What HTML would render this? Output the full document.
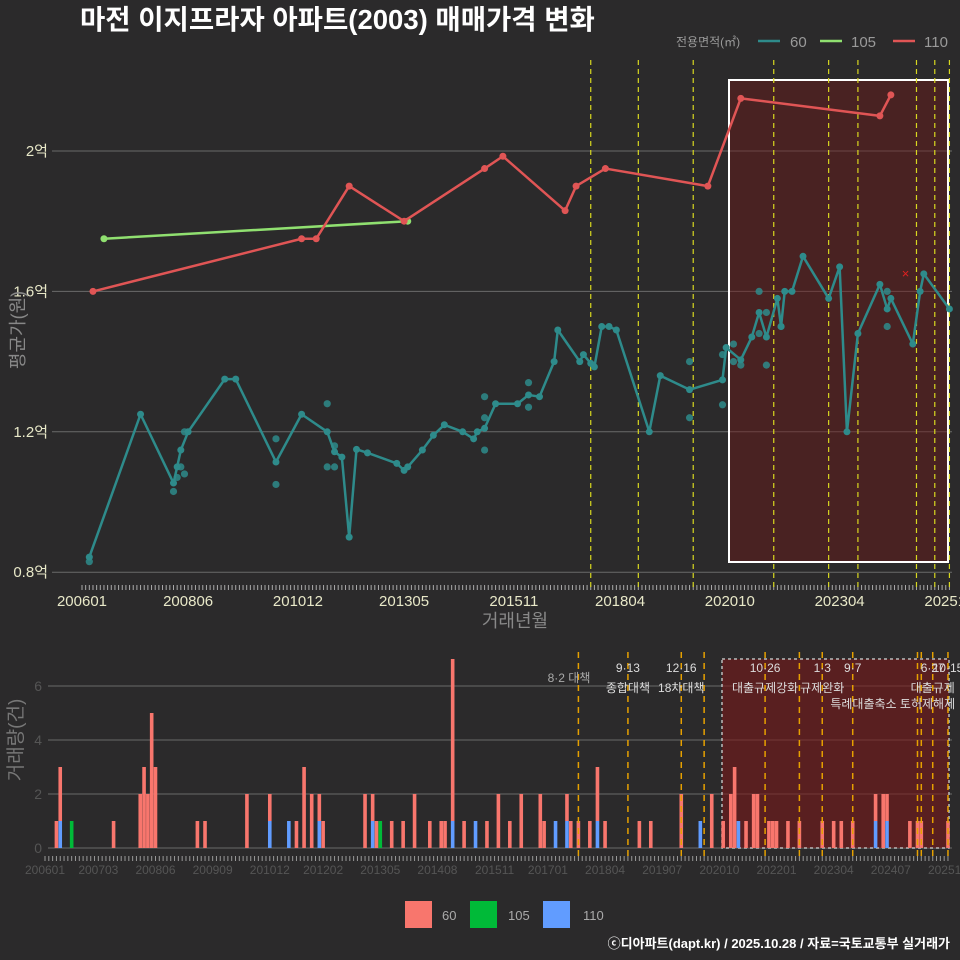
<!DOCTYPE html>
<html><head><meta charset="utf-8"><style>
html,body{margin:0;padding:0;background:#2b2a2b;}
svg{display:block;font-family:"Liberation Sans","Noto Sans CJK KR",sans-serif;}
</style></head><body>
<svg id="c" width="960" height="960" viewBox="0 0 960 960" xmlns="http://www.w3.org/2000/svg">
<rect width="960" height="960" fill="#2b2a2b"/>
<text x="80" y="29" fill="#ffffff" font-size="27.5" font-weight="bold">마전 이지프라자 아파트(2003) 매매가격 변화</text>
<g>
<text x="676" y="46" fill="#9a9a9a" font-size="12">전용면적(㎡)</text>
<line x1="758" y1="41" x2="780" y2="41" stroke="#2e8b8b" stroke-width="2.5"/>
<text x="790" y="47" fill="#9a9a9a" font-size="15">60</text>
<line x1="820" y1="41" x2="842" y2="41" stroke="#90e070" stroke-width="2.5"/>
<text x="851" y="47" fill="#9a9a9a" font-size="15">105</text>
<line x1="893" y1="41" x2="915" y2="41" stroke="#e05555" stroke-width="2.5"/>
<text x="924" y="47" fill="#9a9a9a" font-size="15">110</text>
</g>
<g id="topG"></g>
<g id="botG"></g>
<text transform="translate(24,330) rotate(-90)" text-anchor="middle" fill="#888" font-size="18">평균가(원)</text>
<text x="515" y="627" text-anchor="middle" fill="#888" font-size="18">거래년월</text>
<text transform="translate(22,740) rotate(-90)" text-anchor="middle" fill="#777" font-size="19">거래량(건)</text>
<g>
<rect x="405" y="901" width="27" height="27" fill="#f8766d"/>
<text x="442" y="920" fill="#aaa" font-size="13">60</text>
<rect x="470" y="901" width="27" height="27" fill="#00ba38"/>
<text x="508" y="920" fill="#aaa" font-size="13">105</text>
<rect x="543" y="901" width="27" height="27" fill="#619cff"/>
<text x="583" y="920" fill="#aaa" font-size="13">110</text>
</g>
<text x="950" y="948" text-anchor="end" fill="#ffffff" font-size="13" font-weight="bold">ⓒ디아파트(dapt.kr) / 2025.10.28 / 자료=국토교통부 실거래가</text>
</svg>
<script>
// ---- price data ----
const line60Months = ["200603","200705","200802","200803","200804","200806","200904","200907","201006","201101","201108","201110","201112","201202","201204","201207","201303","201305","201306","201310","201401","201404","201409","201412","201501","201503","201506","201512","201603","201606","201610","201611","201705","201706","201708","201709","201711","201801","201803","201812","201903","201911","202008","202009","202101","202104","202106","202108","202111","202112","202201","202203","202206","202301","202304","202306","202309","202403","202405","202406","202412","202502","202503","202510"];
const line60Values = [0.843,1.25,1.054,1.10,1.148,1.20,1.35,1.35,1.114,1.25,1.20,1.143,1.128,0.90,1.15,1.14,1.11,1.09,1.10,1.148,1.19,1.22,1.20,1.18,1.20,1.21,1.28,1.28,1.305,1.30,1.40,1.49,1.40,1.42,1.395,1.385,1.50,1.50,1.49,1.20,1.36,1.32,1.348,1.44,1.405,1.47,1.54,1.47,1.58,1.50,1.60,1.60,1.70,1.58,1.67,1.20,1.48,1.62,1.55,1.58,1.45,1.60,1.65,1.55];
const scatter60Months = ["200603","200802","200803","200804","200805","200805","201006","201006","201108","201110","201110","201108","201503","201503","201503","201603","201603","201911","201911","202008","202008","202011","202011","202101","202106","202106","202108","202108","202112","202405","202405"];
const scatter60Values = [0.83,1.03,1.07,1.10,1.08,1.20,1.18,1.05,1.28,1.16,1.10,1.10,1.30,1.24,1.148,1.34,1.27,1.40,1.24,1.42,1.277,1.45,1.40,1.39,1.60,1.48,1.54,1.39,1.50,1.60,1.50];
const line105Months = ["200607","201306"];
const line105Values = [1.75,1.80];
const line110Months = ["200604","201101","201105","201202","201305","201503","201508","201701","201704","201712","202004","202101","202403","202406"];
const line110Values = [1.60,1.75,1.75,1.90,1.80,1.95,1.985,1.83,1.90,1.95,1.90,2.15,2.10,2.16];
const cancelMonths = ["202410"];
const cancelValues = [1.65];
const priceTicks = [0.8,1.2,1.6,2.0];
const priceTickLabels = ["0.8억","1.2억","1.6억","2억"];
const topXLabels = ["200601","200806","201012","201305","201511","201804","202010","202304","202510"];
const topPolicyMonths = ["201708","201809","201912","202110","202301","202309","202501","202506","202510"];
// ---- volume data ----
const volMonths = ["200604","200605","200608","200707","200802","200803","200804","200805","200806","200905","200907","201006","201012","201105","201107","201109","201111","201201","201202","201301","201303","201304","201305","201308","201311","201402","201406","201409","201410","201412","201503","201506","201509","201512","201603","201606","201611","201612","201703","201706","201707","201709","201712","201802","201804","201901","201904","201912","202005","202008","202011","202101","202102","202103","202105","202107","202108","202111","202112","202201","202204","202207","202301","202304","202306","202309","202403","202405","202406","202412","202502","202503","202510"];
const vol60 = [1,2,0,1,2,3,2,5,3,1,1,2,1,0,1,3,2,1,1,2,1,1,0,1,1,2,1,1,1,6,1,0,1,2,1,2,2,1,0,1,1,1,1,2,1,1,1,2,0,2,1,2,3,0,1,2,2,1,1,1,1,1,1,1,1,1,1,2,1,1,1,1,1];
const vol105 = [0,0,1,0,0,0,0,0,0,0,0,0,0,0,0,0,0,0,0,0,0,0,1,0,0,0,0,0,0,0,0,0,0,0,0,0,0,0,0,0,0,0,0,0,0,0,0,0,0,0,0,0,0,0,0,0,0,0,0,0,0,0,0,0,0,0,0,0,0,0,0,0,0];
const vol110 = [0,1,0,0,0,0,0,0,0,0,0,0,1,1,0,0,0,1,0,0,1,0,0,0,0,0,0,0,0,1,0,1,0,0,0,0,0,0,1,1,0,0,0,1,0,0,0,0,1,0,0,0,0,1,0,0,0,0,0,0,0,0,0,0,0,0,1,0,1,0,0,0,0];
const volTicks = [0,2,4,6];
const botXLabels = ["200601","200703","200806","200909","201012","201202","201305","201408","201511","201701","201804","201907","202010","202201","202304","202407","202510"];
const botPolicyMonths = ["201709","201810","201912","202006","202110","202207","202301","202309","202502","202503","202506","202510"];
const policyNum = ["8·2 대책","9·13","12·16","10·26","1·3","9·7","6·27","10·15"];
const policyText = ["","종합대책","18차대책","대출규제강화","규제완화","특례대출축소 토허제해제","대출규제",""];
const policyAt = ["201709","201810","201912","202110","202301","202309","202506","202510"];

const NS="http://www.w3.org/2000/svg";
function mi(s){return (parseInt(s.slice(0,4))-2006)*12+parseInt(s.slice(4))-1;}
function el(tag,attrs,parent){const e=document.createElementNS(NS,tag);for(const k in attrs)e.setAttribute(k,attrs[k]);parent.appendChild(e);return e;}
const topG=document.getElementById('topG'), botG=document.getElementById('botG');
const xT=s=>82+mi(s)*3.66, yT=v=>151+(2-v)*351;
const xB=s=>45+mi(s)*3.81, yB=v=>848-v*27;

priceTicks.forEach((t,i)=>{
  const g=el('line',{x1:52,x2:952,y1:yT(t),y2:yT(t),stroke:'#6a6a6a','stroke-width':1},topG);
  
  
  const tl=el('text',{x:48,y:yT(t)+5,'text-anchor':'end',fill:'#e8e8c8','font-size':15},topG);
  tl.textContent=priceTickLabels[i];
  
  
});
const hr=el('rect',{x:729,y:80,width:219,height:482,fill:'rgba(110,25,25,0.45)',stroke:'#ffffff','stroke-width':2},topG);


for(let m=0;m<=237;m++){
  const t=el('line',{x1:82+m*3.66,x2:82+m*3.66,y1:585,y2:590,stroke:'#aaa','stroke-width':1},topG);
  
  
  const b=el('line',{x1:45+m*3.81,x2:45+m*3.81,y1:856,y2:861,stroke:'#999','stroke-width':1},botG);
  
  
}
topXLabels.forEach(s=>{
  const t=el('text',{x:xT(s),y:606,'text-anchor':'middle',fill:'#e8e8c8','font-size':15},topG);
  t.textContent=s;
  
  
});
topPolicyMonths.forEach(s=>{
  const l=el('line',{x1:xT(s),x2:xT(s),y1:60,y2:590,stroke:'#d8d820','stroke-width':1.2,'stroke-dasharray':'5,4'},topG);
  
  
});
function series(months,vals,color,name){
  const pts=months.map((m,i)=>xT(m)+','+yT(vals[i])).join(' ');
  const p=el('polyline',{points:pts,fill:'none',stroke:color,'stroke-width':2.5,'stroke-linejoin':'round'},topG);
  
  
  months.forEach((m,i)=>{
    const c=el('circle',{cx:xT(m),cy:yT(vals[i]),r:3.5,fill:color},topG);
    
    
  });
}
scatter60Months.forEach((m,i)=>{
  const c=el('circle',{cx:xT(m),cy:yT(scatter60Values[i]),r:3.6,fill:'#2e8b8b','fill-opacity':0.85},topG);
  
  
});
series(line60Months,line60Values,'#2e8b8b','series-60');
series(line105Months,line105Values,'#90e070','series-105');
series(line110Months,line110Values,'#e05555','series-110');
cancelMonths.forEach((m,i)=>{
  const t=el('text',{x:xT(m),y:yT(cancelValues[i])+4,'text-anchor':'middle',fill:'#e02020','font-size':13},topG);
  t.textContent='×';
  
  
});

volTicks.forEach(t=>{
  const g=el('line',{x1:48,x2:952,y1:yB(t),y2:yB(t),stroke:'#6a6a6a','stroke-width':1},botG);
  
  
  const tl=el('text',{x:42,y:yB(t)+5,'text-anchor':'end',fill:'#555','font-size':14},botG);
  tl.textContent=t;
  
  
});
const br=el('rect',{x:722,y:659,width:227,height:189,fill:'rgba(120,25,25,0.6)',stroke:'#bbbbbb','stroke-width':1.5,'stroke-dasharray':'3,3'},botG);


botXLabels.forEach(s=>{
  const t=el('text',{x:xB(s),y:874,'text-anchor':'middle',fill:'#555','font-size':12},botG);
  t.textContent=s;
  
  
});
volMonths.forEach((m,i)=>{
  const x=xB(m)-1.8; let base=0;
  [[vol110[i],'#619cff'],[vol105[i],'#00ba38'],[vol60[i],'#f8766d']].forEach(([v,c])=>{
    if(v>0){
      const r=el('rect',{x:x,y:yB(base+v),width:3.6,height:v*27,fill:c},botG);
      
      
      base+=v;
    }
  });
});
botPolicyMonths.forEach(s=>{
  const l=el('line',{x1:xB(s),x2:xB(s),y1:652,y2:858,stroke:'#e6a000','stroke-width':1.5,'stroke-dasharray':'6,5'},botG);
  
  
});
policyAt.forEach((s,i)=>{
  const x=xB(s);
  const first=i===0;
  const n=el('text',{x:first?x+12:x,y:first?682:672,'text-anchor':first?'end':'middle',fill:first?'#aaa':'#ddd','font-size':12},botG);
  n.textContent=policyNum[i];
  
  
  if(policyText[i]){
    const wide=i===5;
    const t=el('text',{x:wide?x+40:x,y:wide?708:692,'text-anchor':'middle',fill:'#ddd','font-size':12},botG);
    t.textContent=policyText[i];
    
    
  }
});
</script>
</body></html>
